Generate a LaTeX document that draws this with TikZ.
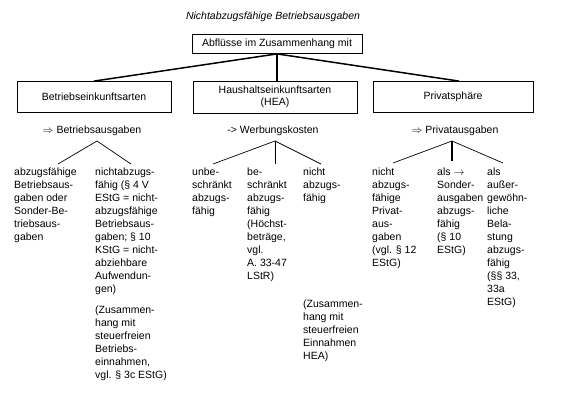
\documentclass[tikz,border=0pt]{standalone}
\usepackage{fontspec}
\setmainfont{Liberation Sans}
\usetikzlibrary{calc}
\begin{document}
\begin{tikzpicture}[x=1pt,y=-1pt,
  font=\fontsize{10.5}{13}\selectfont,
  box/.style={draw, line width=0.8pt, inner sep=0pt, align=center},
  lab/.style={inner sep=0pt},
  col/.style={anchor=north west, align=left, inner sep=0pt},
  mainconn/.style={line width=1.5pt},
  subconn/.style={line width=0.7pt}]
\useasboundingbox (0,0) rectangle (570,400);
% title
\node[lab, font=\fontsize{10.5}{13}\selectfont\itshape] (title) at (273,17) {Nichtabzugsfähige Betriebsausgaben};
% top box
\node[box, minimum width=170, minimum height=19] (top) at (277,44) {Abflüsse im Zusammenhang mit};
% level 1 boxes
\node[box, minimum width=154, minimum height=31] (b1) at (94,97) {Betriebseinkunftsarten};
\node[box, minimum width=164, minimum height=32] (b2) at (275,97) {Haushaltseinkunftsarten\\[-1pt](HEA)};
\node[box, minimum width=160, minimum height=31] (b3) at (453,97) {Privatsphäre};
\draw[mainconn] (top.south) -- (b1.north);
\draw[mainconn] (top.south) -- (top.south |- b2.north);
\draw[mainconn] (top.south) -- ($(b3.north)+(6,0)$);
% level 2 labels
\node[lab] (l1) at (92,131) {$\Rightarrow$ Betriebsausgaben};
\node[lab] (l2) at (273,131) {-> Werbungskosten};
\node[lab] (l3) at (455,131) {$\Rightarrow$ Privatausgaben};
\coordinate (p1) at (97,141);
\coordinate (p2) at (275,141);
\coordinate (p3) at (452,141);
% level 3 columns
\node[col] (c11) at (14,168) {abzugsfähige\\Betriebsaus-\\gaben oder\\Sonder-Be-\\triebsaus-\\gaben};
\node[col] (c12) at (95,168) {nichtabzugs-\\fähig (§ 4 V\\EStG = nicht-\\abzugsfähige\\Betriebsaus-\\gaben; § 10\\KStG = nicht-\\abziehbare\\Aufwendun-\\gen)\\[8pt](Zusammen-\\hang mit\\steuerfreien\\Betriebs-\\einnahmen,\\vgl. § 3c EStG)};
\node[col] (c21) at (192,168) {unbe-\\schränkt\\abzugs-\\fähig};
\node[col] (c22) at (247,168) {be-\\schränkt\\abzugs-\\fähig\\(Höchst-\\beträge,\\vgl.\\A. 33-47\\LStR)};
\node[col] (c23) at (303,168) {nicht\\abzugs-\\fähig};
\node[col] (c24) at (303,300) {(Zusammen-\\hang mit\\steuerfreien\\Einnahmen\\HEA)};
\node[col] (c31) at (372,168) {nicht\\abzugs-\\fähige\\Privat-\\aus-\\gaben\\(vgl. § 12\\EStG)};
\node[col] (c32) at (437,168) {als $\rightarrow$\\Sonder-\\ausgaben\\abzugs-\\fähig\\(§ 10\\EStG)};
\node[col] (c33) at (487,168) {als\\außer-\\gewöhn-\\liche\\Bela-\\stung\\abzugs-\\fähig\\(§§ 33,\\33a\\EStG)};
% connector ends
\coordinate (e11) at (58,164);
\coordinate (e12) at (131,164);
\coordinate (e21) at (213,164);
\coordinate (e22) at (275,164);
\coordinate (e23) at (321,164);
\coordinate (e31) at (393,163);
\coordinate (e32) at (452,161);
\coordinate (e33) at (503,163);
\draw[subconn] (p1) -- (e11);
\draw[subconn] (p1) -- (e12);
\draw[subconn] (p2) -- (e21);
\draw[subconn] (p2) -- (e22);
\draw[subconn] (p2) -- (e23);
\draw[subconn] (p3) -- (e31);
\draw[line width=1.5pt] (p3) -- (e32);
\draw[subconn] (p3) -- (e33);
\end{tikzpicture}
\end{document}
